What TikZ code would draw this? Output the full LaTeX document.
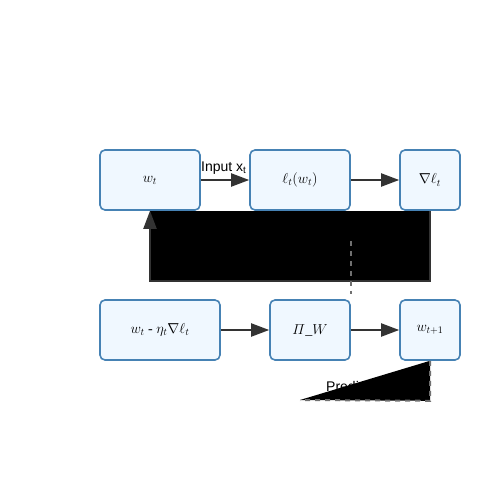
\documentclass[tikz,border=0pt]{standalone}
\usepackage{fontspec}
\setmainfont{Liberation Serif}
\setsansfont{Liberation Sans}
\usetikzlibrary{arrows.meta}
\definecolor{boxfill}{HTML}{F0F8FF}
\definecolor{boxline}{HTML}{4682B4}
\definecolor{arrcol}{HTML}{333333}
\definecolor{dashcol}{HTML}{707070}
\begin{document}
\begin{tikzpicture}[x=1pt,y=-1pt,
  box/.style={draw=boxline, fill=boxfill, line width=1.6pt, rounded corners=5pt,
    minimum height=60pt, inner sep=0pt, font=\fontsize{14}{16}\selectfont},
  flow/.style={draw=arrcol, line width=2pt, -{Triangle[length=18pt,width=13pt]}},
  dashline/.style={draw=dashcol, line width=2pt, dash pattern=on 5pt off 5pt},
  lbl/.style={font=\sffamily\fontsize{14}{16}\selectfont, inner sep=0pt}]
\useasboundingbox (0,0) rectangle (500,500);
% boxes
\node[box, minimum width=100pt] (w) at (150,180) {$w_t$};
\node[box, minimum width=100pt] (l) at (300,180) {$\ell_t(w_t)$};
\node[box, minimum width=60pt] (g) at (430,180) {$\nabla\ell_t$};
\node[box, minimum width=120pt] (u) at (160,330) {$w_t$ - $\eta_t\nabla\ell_t$};
\node[box, minimum width=80pt] (p) at (310,330) {$\mathnormal{\Pi}\_W$};
\node[box, minimum width=60pt] (n) at (430,330) {$w_{t+1}$};
% forward arrows
\draw[flow] (w) -- (l);
\draw[flow] (l) -- (g);
\draw[flow] (u) -- (p);
\draw[flow] (p) -- (n);
\node[lbl, anchor=base west] (inlbl) at (201,171) {Input x\textsubscript{t}};
% feedback path (filled)
\coordinate (fb) at ([yshift=-70pt]g.south);
\fill[black] (w.south) rectangle (fb);
\draw[flow] (g.south) -- (fb) -| (w.south);
% dashed link
\draw[dashline] ([yshift=-30pt]l.south east) -- ([yshift=5pt]p.north east);
% prediction
\node[lbl, anchor=base west] (pred) at (326,391) {Prediction};
\coordinate (pc) at ([yshift=-40pt]n.south);
\coordinate (pe) at (300,400);
\fill[black] (n.south) -- (pc) -- (pe) -- cycle;
\draw[dashline] (n.south) -- (pc) -- (pe);
\end{tikzpicture}
\end{document}
